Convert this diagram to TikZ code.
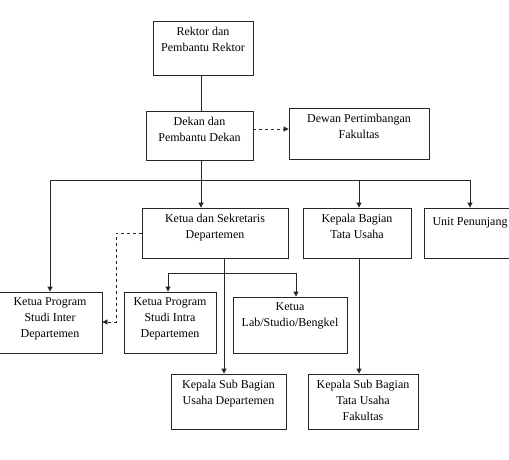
\documentclass[tikz,border=0pt]{standalone}
\usepackage{fontspec}
\setmainfont{Liberation Serif}
\usetikzlibrary{arrows.meta}
\begin{document}
\begin{tikzpicture}[x=1pt,y=-1pt,
  box/.style={draw=black!85, line width=0.8pt, rectangle, inner sep=0pt},
  lbl/.style={anchor=north, align=center, inner xsep=0pt, inner ysep=6pt, font=\fontsize{12}{16}\selectfont},
  conn/.style={draw=black!85, line width=0.8pt},
  arr/.style={conn, -{Triangle[length=5pt,width=5pt]}},
  darr/.style={arr, dashed, dash pattern=on 3pt off 3pt}
]
\fill[white] (0,0) rectangle (509,460);
\useasboundingbox (0,0) rectangle (509,460);

\node[box, minimum width=100pt, minimum height=54pt, label={[lbl]north:Rektor dan\\Pembantu Rektor}] (rektor) at (203,48) {};
\node[box, minimum width=107pt, minimum height=49pt, label={[lbl]north:Dekan dan\\Pembantu Dekan}] (dekan) at (199.5,135.5) {};
\node[box, minimum width=140pt, minimum height=51pt, label={[lbl]north:Dewan Pertimbangan\\Fakultas}] (dewan) at (359,133.5) {};
\node[box, minimum width=146pt, minimum height=50pt, label={[lbl]north:Ketua dan Sekretaris\\Departemen}] (kds) at (215,233) {};
\node[box, minimum width=108pt, minimum height=50pt, label={[lbl]north:Kepala Bagian\\Tata Usaha}] (kbtu) at (357,233) {};
\node[box, minimum width=92pt, minimum height=50pt, label={[lbl, yshift=-4pt]north:Unit Penunjang}] (unit) at (470,233) {};
\node[box, minimum width=104pt, minimum height=61pt, label={[lbl]north:Ketua Program\\Studi Inter\\Departemen}] (inter) at (50,322.5) {};
\node[box, minimum width=92pt, minimum height=61pt, label={[lbl]north:Ketua Program\\Studi Intra\\Departemen}] (intra) at (170,322.5) {};
\node[box, minimum width=114pt, minimum height=56pt, label={[lbl]north:Ketua\\Lab/Studio/Bengkel}] (lab) at (290,325) {};
\node[box, minimum width=115pt, minimum height=55pt, label={[lbl]north:Kepala Sub Bagian\\Usaha Departemen}] (ksbud) at (228.5,401.5) {};
\node[box, minimum width=110pt, minimum height=55pt, label={[lbl]north:Kepala Sub Bagian\\Tata Usaha\\Fakultas}] (ksbtuf) at (363,401.5) {};

% coordinates
\coordinate (spine) at (201,180);
\coordinate (bL) at (50,180);
\coordinate (bR) at (470,180);
\coordinate (bK) at (359,180);
\coordinate (rx) at (201,0);
\coordinate (dy) at (0,129);
\coordinate (kx) at (224,0);
\coordinate (br) at (224,273);
\coordinate (brL) at (168,273);
\coordinate (brR) at (296,273);
\coordinate (dsy) at (0,233);
\coordinate (dsx) at (116,0);
\coordinate (diy) at (0,322);

% connectors
\draw[conn] (rektor.south -| rx) -- (dekan.north -| rx);
\draw[darr] (dekan.east |- dy) -- (dewan.west |- dy);
\draw[conn] (dekan.south -| spine) -- (spine);
\draw[conn] (bL) -- (bR);
\draw[arr] (spine) -- (kds.north -| spine);
\draw[arr] (bK) -- (kbtu.north -| bK);
\draw[arr] (bR) -- (unit.north -| bR);
\draw[arr] (bL) -- (inter.north -| bL);
\draw[arr] (kds.south -| kx) -- (ksbud.north -| kx);
\draw[conn] (brL) -- (brR);
\draw[arr] (brL) -- (intra.north -| brL);
\draw[arr] (brR) -- (lab.north -| brR);
\draw[arr] (kbtu.south -| bK) -- (ksbtuf.north -| bK);
\draw[darr] (kds.west |- dsy) -- (dsx |- dsy) -- (dsx |- diy) -- (inter.east |- diy);
\end{tikzpicture}
\end{document}
